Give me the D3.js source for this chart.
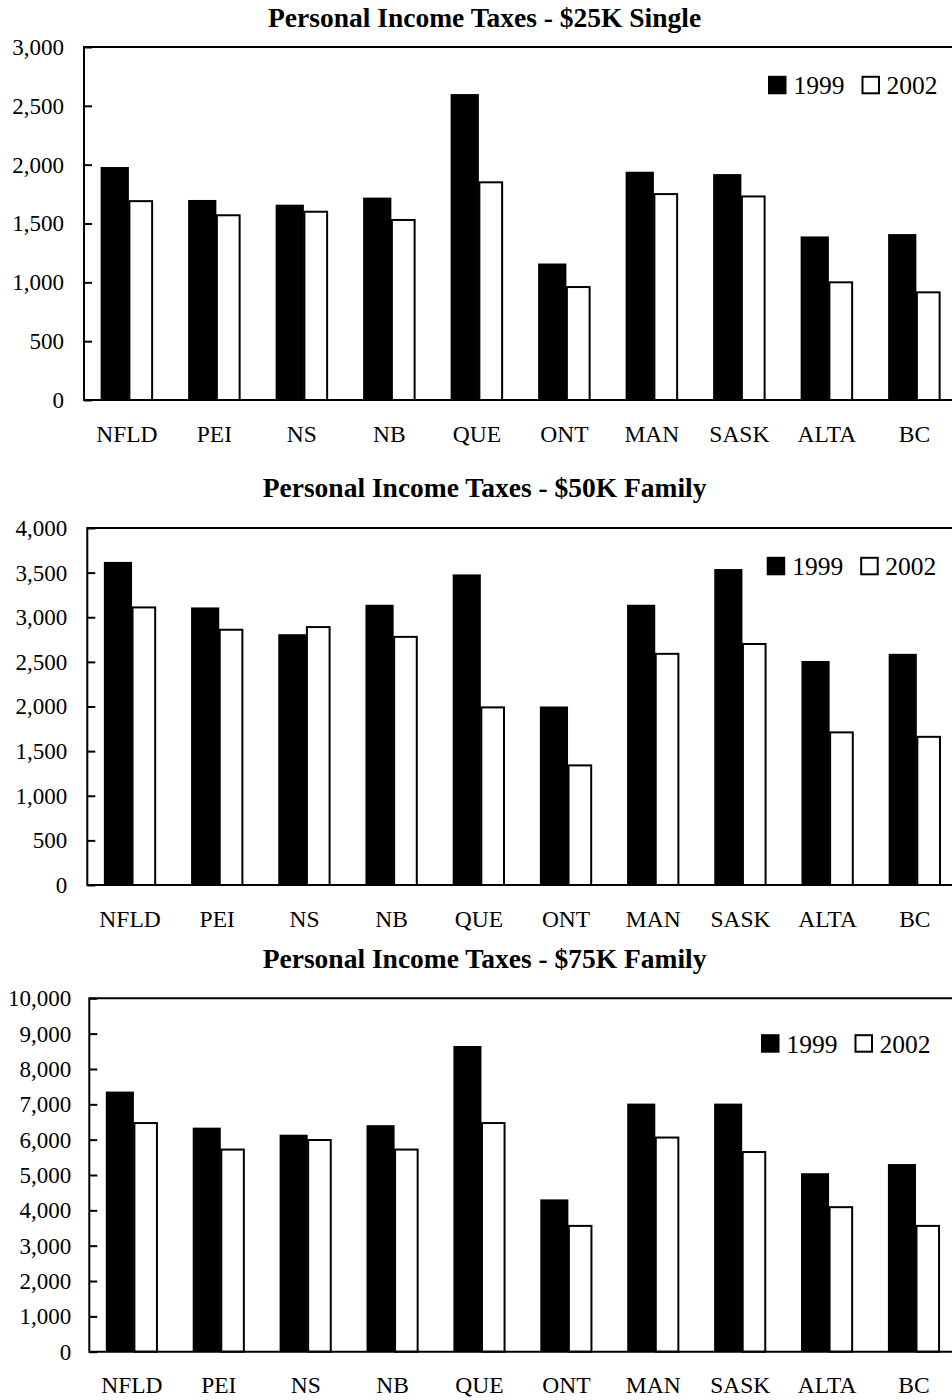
<!DOCTYPE html>
<html>
<head>
<meta charset="utf-8">
<script src="https://cdn.jsdelivr.net/npm/d3@7"></script>
<style>
  html, body { margin: 0; padding: 0; background: #fff; }
  svg { display: block; }
  text { font-family: "Liberation Serif", "Times New Roman", Times, serif; fill: #000; }
</style>
</head>
<body>
<svg id="chart" width="952" height="1400"></svg>
<script>
// Provinces shown on every panel
const provinces = ["NFLD", "PEI", "NS", "NB", "QUE", "ONT", "MAN", "SASK", "ALTA", "BC"];
const years = ["1999", "2002"];

// Personal income taxes ($), $25K single
const single25k1999 = [1980, 1700, 1660, 1720, 2600, 1160, 1940, 1920, 1390, 1410];
const single25k2002 = [1690, 1570, 1600, 1530, 1850, 960, 1750, 1730, 1000, 915];

// Personal income taxes ($), $50K family
const family50k1999 = [3620, 3110, 2810, 3140, 3480, 2000, 3140, 3540, 2510, 2590];
const family50k2002 = [3110, 2860, 2890, 2780, 1990, 1340, 2590, 2700, 1710, 1660];

// Personal income taxes ($), $75K family
const family75k1999 = [7360, 6340, 6140, 6410, 8650, 4310, 7020, 7020, 5050, 5310];
const family75k2002 = [6470, 5720, 5990, 5720, 6470, 3560, 6060, 5650, 4090, 3560];

// Y-axis tick values
const ticks25k = [0, 500, 1000, 1500, 2000, 2500, 3000];
const ticks50k = [0, 500, 1000, 1500, 2000, 2500, 3000, 3500, 4000];
const ticks75k = [0, 1000, 2000, 3000, 4000, 5000, 6000, 7000, 8000, 9000, 10000];

const titles = [
  "Personal Income Taxes - $25K Single",
  "Personal Income Taxes - $50K Family",
  "Personal Income Taxes - $75K Family"
];

// Layout of each panel
const panels = [
  { title: titles[0], s1999: single25k1999, s2002: single25k2002, ticks: ticks25k,
    left: 84, top: 47, bottom: 400, step: 87.5, titleY: 26.5, tickPad: 20,
    legX: 768, legY: 94.3 },
  { title: titles[1], s1999: family50k1999, s2002: family50k2002, ticks: ticks50k,
    left: 87.3, top: 528, bottom: 885, step: 87.2, titleY: 496.7, tickPad: 20,
    legX: 766.7, legY: 575.3 },
  { title: titles[2], s1999: family75k1999, s2002: family75k2002, ticks: ticks75k,
    left: 89.3, top: 998.3, bottom: 1351.7, step: 86.9, titleY: 968, tickPad: 18,
    legX: 761, legY: 1052.7 }
];

const svg = d3.select("#chart");
const PAD_IN = 0.4, PAD_OUT = 0.19;

panels.forEach(p => {
  const right = p.left + p.step * (provinces.length - PAD_IN + 2 * PAD_OUT);
  const x = d3.scaleBand().domain(provinces).range([p.left, right])
    .paddingInner(PAD_IN).paddingOuter(PAD_OUT);
  const yMax = p.ticks[p.ticks.length - 1];
  const y = d3.scaleLinear().domain([0, yMax]).range([p.bottom, p.top]);
  const bw = x.bandwidth() / 2;

  const g = svg.append("g");

  // Title
  g.append("text")
    .attr("x", 484.6).attr("y", p.titleY)
    .attr("text-anchor", "middle")
    .style("font-size", "27.5px").style("font-weight", "bold")
    .text(p.title);

  // Bars
  const rows = provinces.map((name, i) => ({ name, v1999: p.s1999[i], v2002: p.s2002[i] }));
  g.selectAll("rect.b1999").data(rows).join("rect")
    .attr("class", "b1999")
    .attr("x", d => x(d.name))
    .attr("width", bw + 2)
    .attr("y", d => y(d.v1999))
    .attr("height", d => y(0) - y(d.v1999))
    .attr("fill", "#000");
  g.selectAll("rect.b2002").data(rows).join("rect")
    .attr("class", "b2002")
    .attr("x", d => x(d.name) + bw + 2.5)
    .attr("width", bw - 3.5)
    .attr("y", d => y(d.v2002))
    .attr("height", d => y(0) - y(d.v2002))
    .attr("fill", "#fff").attr("stroke", "#000").attr("stroke-width", 2);

  // Plot frame (left, top, bottom; right edge runs past the page)
  g.append("path")
    .attr("d", `M${right},${p.top}H${p.left}V${p.bottom}H${right}`)
    .attr("fill", "none").attr("stroke", "#000").attr("stroke-width", 2);

  // Y axis with inward ticks
  const ya = g.append("g").attr("transform", `translate(${p.left},0)`)
    .call(d3.axisLeft(y).tickValues(p.ticks).tickFormat(d3.format(","))
      .tickSizeInner(-8).tickSizeOuter(0).tickPadding(p.tickPad));
  ya.select(".domain").remove();
  ya.selectAll("line").attr("stroke", "#000").attr("stroke-width", 2);
  ya.selectAll("text").style("font-size", "23px").attr("font-family", null).attr("fill", "#000");
  ya.attr("font-family", null).attr("font-size", null);

  // X axis category labels
  const xa = g.append("g").attr("transform", `translate(0,${p.bottom})`)
    .call(d3.axisBottom(x).tickSize(0).tickPadding(25));
  xa.select(".domain").remove();
  xa.selectAll("text").style("font-size", "23.5px").attr("fill", "#000");
  xa.attr("font-family", null).attr("font-size", null);

  // Legend
  const sq = 18.5;
  const leg = g.append("g").attr("transform", `translate(${p.legX},${p.legY})`);
  leg.append("rect").attr("x", 0).attr("y", -sq).attr("width", sq).attr("height", sq)
    .attr("fill", "#000");
  leg.append("text").attr("x", 25.5).attr("y", 0).style("font-size", "25.5px").text(years[0]);
  leg.append("rect").attr("x", 94.5).attr("y", -sq + 1).attr("width", sq - 2).attr("height", sq - 2)
    .attr("fill", "#fff").attr("stroke", "#000").attr("stroke-width", 2);
  leg.append("text").attr("x", 118.5).attr("y", 0).style("font-size", "25.5px").text(years[1]);
});
</script>
</body>
</html>
